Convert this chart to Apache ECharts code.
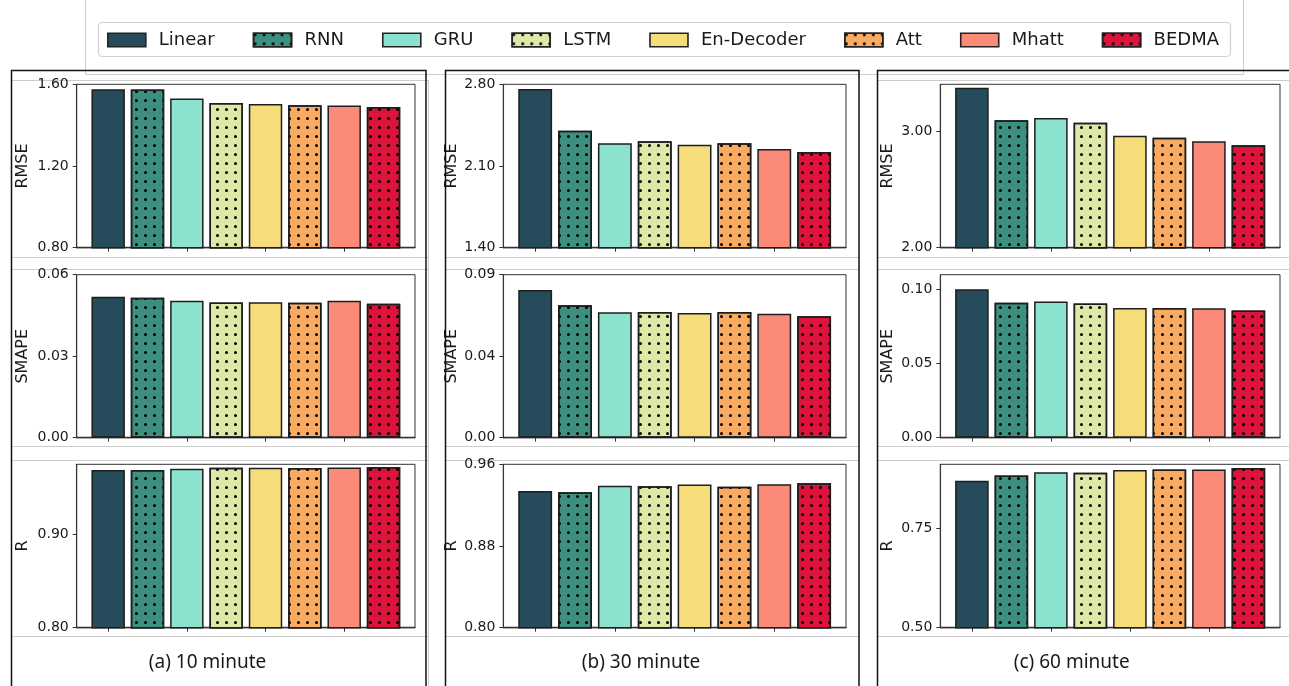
<!DOCTYPE html>
<html>
<head>
<meta charset="utf-8">
<script src="https://cdn.jsdelivr.net/npm/echarts@6/dist/echarts.min.js"></script>
<style>
  html, body { margin: 0; padding: 0; background: #ffffff; }
  #chart { width: 1289px; height: 686px; }
</style>
</head>
<body>
<div id="chart"></div>
<script>
// Models compared, in bar order
const models = ['Linear', 'RNN', 'GRU', 'LSTM', 'En-Decoder', 'Att', 'Mhatt', 'BEDMA'];
const modelColors = ['#264b5a', '#3d9080', '#8be3cf', '#dfe8a6', '#f7dc7c', '#f9aa63', '#fb8b78', '#dc143c'];
const modelDotted = [false, true, false, true, false, true, false, true];

const metrics = ['RMSE', 'SMAPE', 'R'];
const horizons = ['(a) 10 minute', '(b) 30 minute', '(c) 60 minute'];

// 10-minute horizon
const rmse10  = [1.576, 1.574, 1.530, 1.509, 1.504, 1.497, 1.496, 1.489];
const smape10 = [0.0519, 0.0515, 0.0504, 0.0498, 0.0499, 0.0497, 0.0504, 0.0493];
const r10     = [0.9689, 0.9688, 0.9703, 0.9712, 0.9712, 0.9711, 0.9716, 0.9721];
// 30-minute horizon
const rmse30  = [2.760, 2.403, 2.294, 2.311, 2.283, 2.294, 2.246, 2.220];
const smape30 = [0.0815, 0.0731, 0.0692, 0.0694, 0.0688, 0.0694, 0.0685, 0.0670];
const r30     = [0.9339, 0.9326, 0.9391, 0.9384, 0.9401, 0.9381, 0.9404, 0.9414];
// 60-minute horizon
const rmse60  = [3.370, 3.091, 3.111, 3.071, 2.960, 2.943, 2.912, 2.877];
const smape60 = [0.1002, 0.0910, 0.0919, 0.0906, 0.0876, 0.0876, 0.0874, 0.0858];
const r60     = [0.869, 0.882, 0.890, 0.889, 0.8955, 0.897, 0.897, 0.9005];

// Value-axis ranges [min, max] per horizon and metric
const range10 = [[0.8, 1.6], [0, 0.06], [0.8, 0.975]];
const range30 = [[1.4, 2.8], [0, 0.09], [0.8, 0.96]];
const range60 = [[2.0, 3.4], [0, 0.11], [0.5, 0.91]];
// Tick values per horizon and metric
const ticks10 = [[0.8, 1.2, 1.6], [0, 0.03, 0.06], [0.8, 0.9]];
const ticks30 = [[1.4, 2.1, 2.8], [0, 0.045, 0.09], [0.8, 0.88, 0.96]];
const ticks60 = [[2.0, 3.0], [0, 0.05, 0.10], [0.5, 0.75]];
// x ticks sit under every other bar
const xTicks = [0, 2, 4, 6];

const panelValues = [[rmse10, smape10, r10], [rmse30, smape30, r30], [rmse60, smape60, r60]];
const panelRanges = [range10, range30, range60];
const panelTicks = [ticks10, ticks30, ticks60];

// ---- layout ----
const colLeft = [76.7, 503.3, 940.3];
const colWidth = [338.3, 342.7, 339.7];
const rowTop = [84.3, 274.7, 464.3];
const rowHeight = [163.4, 163, 163.4];
const nameGaps = [45.5, 41.5, 44.3];
const captionX = [207.5, 641, 1071.7];
const X_MIN = -0.8, X_MAX = 7.8;

const dotDecal = {
  symbol: 'circle',
  symbolSize: 1,
  color: '#000000',
  dashArrayX: [3, 5.3],
  dashArrayY: [3, 5.3],
  rotation: 0
};

const grids = [], xAxes = [], yAxes = [], series = [];
let k = 0;
for (let c = 0; c < 3; c++) {
  for (let r = 0; r < 3; r++) {
    grids.push({
      left: colLeft[c], top: rowTop[r], width: colWidth[c], height: rowHeight[r],
      show: true, borderColor: '#333333', borderWidth: 1, backgroundColor: 'transparent',
      containLabel: false
    });
    xAxes.push({
      gridIndex: k, type: 'value', min: X_MIN, max: X_MAX,
      axisLine: { show: true, onZero: false, lineStyle: { color: '#333333', width: 1.3 } },
      axisTick: { show: true, customValues: xTicks, length: 4, lineStyle: { color: '#333333' } },
      axisLabel: { show: false },
      splitLine: { show: false }
    });
    const [ymin, ymax] = panelRanges[c][r];
    yAxes.push({
      gridIndex: k, type: 'value', min: ymin, max: ymax,
      name: metrics[r], nameLocation: 'middle', nameRotate: 90, nameGap: nameGaps[c],
      nameTextStyle: { fontFamily: 'DejaVu Sans', fontSize: 16, color: '#1a1a1a' },
      axisLine: { show: true, onZero: false, lineStyle: { color: '#333333', width: 1.1 } },
      axisTick: { show: true, customValues: panelTicks[c][r], length: 4, lineStyle: { color: '#333333' } },
      axisLabel: {
        show: true, customValues: panelTicks[c][r], margin: 8,
        fontFamily: 'DejaVu Sans', fontSize: 14, color: '#1a1a1a',
        formatter: v => Number(v).toFixed(2)
      },
      splitLine: { show: false }
    });
    const barW = 0.85 * colWidth[c] / (X_MAX - X_MIN);
    const vals = panelValues[c][r];
    models.forEach((m, i) => {
      series.push({
        type: 'bar', name: m, xAxisIndex: k, yAxisIndex: k,
        data: [[i, vals[i]]],
        barWidth: barW, barGap: '-100%', clip: true,
        itemStyle: {
          color: modelColors[i], borderColor: '#1e1e1e', borderWidth: 1.5,
          decal: modelDotted[i] ? dotDecal : null
        },
        emphasis: { disabled: true },
        animation: false
      });
    });
    k++;
  }
}

// Frames and separator lines of the composed figure
const graphics = [];
const greyLine = (x1, y1, x2, y2) => ({
  type: 'line', silent: true, z: -1,
  shape: { x1, y1, x2, y2 }, style: { stroke: '#cccccc', lineWidth: 1 }
});
graphics.push(greyLine(85.5, 0, 85.5, 74.5));
graphics.push(greyLine(1243.5, 0, 1243.5, 74.5));
graphics.push(greyLine(85.5, 74.5, 1243.5, 74.5));
const sepY = [257, 269, 446, 460, 636];
[[11, 428], [445, 859], [877, 1289]].forEach(([x1, x2], c) => {
  const ys = c === 1 ? sepY : [80].concat(sepY);
  ys.forEach(y => graphics.push(greyLine(x1, y + 0.5, x2, y + 0.5)));
});
graphics.push(greyLine(428.5, 80, 428.5, 686));
// legend frame
graphics.push({
  type: 'rect', silent: true, z: -1,
  shape: { x: 98.5, y: 22.5, width: 1132, height: 34, r: 4 },
  style: { fill: '#ffffff', stroke: '#d0d0d0', lineWidth: 1.2 }
});
// panel frames
[[11.5, 414.5], [445.5, 413.5], [877.5, 420]].forEach(([x, w]) => {
  graphics.push({
    type: 'rect', silent: true, z: 10,
    shape: { x: x, y: 70.5, width: w, height: 700 },
    style: { fill: 'none', stroke: '#111111', lineWidth: 1.5 }
  });
});
// panel captions
horizons.forEach((t, c) => {
  graphics.push({
    type: 'text', silent: true, z: 10, x: captionX[c], y: 663,
    style: {
      text: t, fill: '#1a1a1a', font: '19px "Noto Sans"',
      align: 'center', verticalAlign: 'middle', textAlign: 'center', textVerticalAlign: 'middle'
    }
  });
});

const chart = echarts.init(document.getElementById('chart'), null, { renderer: 'canvas' });
chart.setOption({
  backgroundColor: '#ffffff',
  animation: false,
  legend: {
    data: models,
    left: 107, top: 31, padding: 0,
    orient: 'horizontal',
    icon: 'rect',
    itemWidth: 38, itemHeight: 13.5, itemGap: 38,
    selectedMode: false,
    itemStyle: { borderColor: '#222222', borderWidth: 1.6 },
    textStyle: { fontFamily: 'DejaVu Sans', fontSize: 18, color: '#1a1a1a', padding: [0, 0, 0, 8] }
  },
  grid: grids,
  xAxis: xAxes,
  yAxis: yAxes,
  series: series,
  graphic: graphics
});
</script>
</body>
</html>
